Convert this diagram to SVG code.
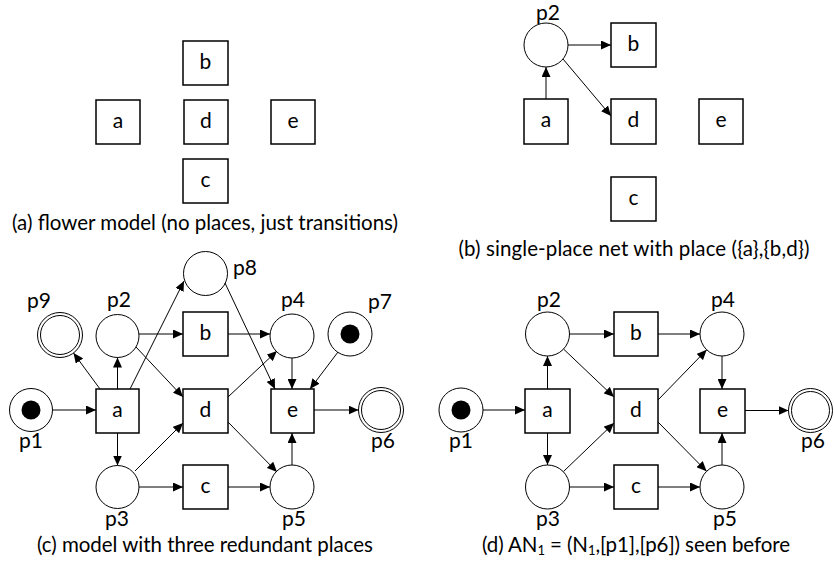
<svg xmlns="http://www.w3.org/2000/svg" width="834" height="572" viewBox="0 0 834 572">
<defs>
<marker id="ah" markerUnits="userSpaceOnUse" markerWidth="11" markerHeight="9" refX="10" refY="4.5" orient="auto">
<path d="M0,0 L10,4.5 L0,9 z" fill="#000"/>
</marker>
<style>
.t{fill:#fff;stroke:#000;stroke-width:1.5}
.p{fill:#fff;stroke:#000;stroke-width:1}
.tok{fill:#000}
.lbl{font-family:Lato,"Liberation Sans",sans-serif;font-size:21px;fill:#000;text-anchor:middle}
.cap{font-family:Lato,"Liberation Sans",sans-serif;font-size:20.5px;fill:#000;text-anchor:middle}
.arc{fill:none;stroke:#000;stroke-width:1;marker-end:url(#ah)}
</style>
</defs>
<rect width="834" height="572" fill="#fff"/>

<!-- Panel (a) -->
<g id="a_b"><rect class="t" x="183" y="41" width="45" height="44"/><text class="lbl" x="205.5" y="69">b</text></g>
<g id="a_a"><rect class="t" x="96" y="100" width="44" height="44"/><text class="lbl" x="118" y="128">a</text></g>
<g id="a_d"><rect class="t" x="184" y="100" width="44" height="44"/><text class="lbl" x="206" y="128">d</text></g>
<g id="a_e"><rect class="t" x="271" y="100" width="44" height="44"/><text class="lbl" x="293" y="128">e</text></g>
<g id="a_c"><rect class="t" x="183" y="159" width="45" height="44"/><text class="lbl" x="205.5" y="187">c</text></g>
<text class="cap" x="205" y="230" textLength="386">(a) flower model (no places, just transitions)</text>

<!-- Panel (b) -->
<g id="b_p2"><circle class="p" cx="546" cy="45" r="22"/><text class="lbl" x="548" y="19.5">p2</text></g>
<g id="b_b"><rect class="t" x="611" y="23" width="45" height="44"/><text class="lbl" x="633.5" y="51">b</text></g>
<g id="b_a"><rect class="t" x="524" y="99" width="44" height="45"/><text class="lbl" x="546" y="127">a</text></g>
<g id="b_d"><rect class="t" x="611" y="99" width="45" height="45"/><text class="lbl" x="633.5" y="127">d</text></g>
<g id="b_e"><rect class="t" x="699" y="99" width="44" height="45"/><text class="lbl" x="721" y="127">e</text></g>
<g id="b_c"><rect class="t" x="611" y="177" width="45" height="44"/><text class="lbl" x="633.5" y="205">c</text></g>
<g id="b_arcs">
<line class="arc" x1="546" y1="99" x2="546" y2="67"/>
<line class="arc" x1="568" y1="45" x2="611" y2="45"/>
<line class="arc" x1="563" y1="59" x2="611" y2="116"/>
</g>
<text class="cap" x="634" y="256" textLength="351">(b) single-place net with place ({a},{b,d})</text>

<!-- Panel (c) -->
<g id="c_p1"><circle class="p" cx="31" cy="410" r="21.5"/><circle class="tok" cx="31" cy="410" r="9.5"/><text class="lbl" x="31" y="448">p1</text></g>
<g id="c_a"><rect class="t" x="96" y="389" width="43" height="44"/><text class="lbl" x="117.5" y="417">a</text></g>
<g id="c_p2"><circle class="p" cx="117.5" cy="336" r="21.5"/><text class="lbl" x="119" y="307">p2</text></g>
<g id="c_p3"><circle class="p" cx="117.5" cy="487" r="21.5"/><text class="lbl" x="117" y="526">p3</text></g>
<g id="c_p9"><circle class="p" cx="60" cy="335" r="22.5"/><circle class="p" cx="60" cy="335" r="19.5"/><text class="lbl" x="39" y="308">p9</text></g>
<g id="c_p8"><circle class="p" cx="205.5" cy="273.5" r="22"/><text class="lbl" x="245" y="275">p8</text></g>
<g id="c_b"><rect class="t" x="183" y="312" width="45" height="44"/><text class="lbl" x="205.5" y="340">b</text></g>
<g id="c_d"><rect class="t" x="183" y="389" width="45" height="44"/><text class="lbl" x="205.5" y="417">d</text></g>
<g id="c_c"><rect class="t" x="183" y="465" width="45" height="44"/><text class="lbl" x="205.5" y="493">c</text></g>
<g id="c_p4"><circle class="p" cx="292" cy="336" r="22"/><text class="lbl" x="293" y="307">p4</text></g>
<g id="c_p7"><circle class="p" cx="350" cy="334" r="22"/><circle class="tok" cx="350" cy="334" r="9.5"/><text class="lbl" x="380" y="309">p7</text></g>
<g id="c_e"><rect class="t" x="271" y="389" width="43" height="44"/><text class="lbl" x="292.5" y="417">e</text></g>
<g id="c_p5"><circle class="p" cx="292" cy="487" r="22"/><text class="lbl" x="294" y="526">p5</text></g>
<g id="c_p6"><circle class="p" cx="381" cy="410" r="22.5"/><circle class="p" cx="381" cy="410" r="19.5"/><text class="lbl" x="383" y="448">p6</text></g>
<g id="c_arcs">
<line class="arc" x1="52.5" y1="410" x2="96" y2="410"/>
<line class="arc" x1="100" y1="389" x2="73.5" y2="353"/>
<line class="arc" x1="117.5" y1="389" x2="117.5" y2="357.5"/>
<line class="arc" x1="130" y1="389" x2="184" y2="281"/>
<line class="arc" x1="117.5" y1="433" x2="117.5" y2="465.5"/>
<line class="arc" x1="139" y1="334" x2="183" y2="334"/>
<line class="arc" x1="136" y1="347" x2="183" y2="397"/>
<line class="arc" x1="135" y1="471" x2="183" y2="423"/>
<line class="arc" x1="139" y1="487" x2="183" y2="487"/>
<line class="arc" x1="228" y1="334" x2="270" y2="334"/>
<line class="arc" x1="228" y1="397" x2="277" y2="351"/>
<line class="arc" x1="228" y1="422" x2="277" y2="472"/>
<line class="arc" x1="228" y1="487" x2="270" y2="487"/>
<line class="arc" x1="225" y1="283" x2="275" y2="389"/>
<line class="arc" x1="292" y1="358" x2="292" y2="389"/>
<line class="arc" x1="338" y1="352" x2="310" y2="389"/>
<line class="arc" x1="292" y1="465" x2="292" y2="433"/>
<line class="arc" x1="314" y1="410" x2="358.5" y2="410"/>
</g>
<text class="cap" x="205" y="552" textLength="336">(c) model with three redundant places</text>

<!-- Panel (d) -->
<g id="d_p1"><circle class="p" cx="461" cy="410" r="22"/><circle class="tok" cx="461" cy="410" r="9.5"/><text class="lbl" x="461" y="448">p1</text></g>
<g id="d_a"><rect class="t" x="525" y="389" width="45" height="44"/><text class="lbl" x="547.5" y="417">a</text></g>
<g id="d_p2"><circle class="p" cx="547.5" cy="334" r="22"/><text class="lbl" x="549" y="307">p2</text></g>
<g id="d_p3"><circle class="p" cx="547.5" cy="487" r="22"/><text class="lbl" x="548" y="526">p3</text></g>
<g id="d_b"><rect class="t" x="614" y="312" width="44" height="44"/><text class="lbl" x="636" y="340">b</text></g>
<g id="d_d"><rect class="t" x="614" y="389" width="44" height="44"/><text class="lbl" x="636" y="417">d</text></g>
<g id="d_c"><rect class="t" x="614" y="465" width="44" height="44"/><text class="lbl" x="636" y="493">c</text></g>
<g id="d_p4"><circle class="p" cx="722" cy="334" r="22"/><text class="lbl" x="723" y="307">p4</text></g>
<g id="d_e"><rect class="t" x="700" y="389" width="45" height="44"/><text class="lbl" x="722.5" y="417">e</text></g>
<g id="d_p5"><circle class="p" cx="722" cy="487" r="22"/><text class="lbl" x="725" y="526">p5</text></g>
<g id="d_p6"><circle class="p" cx="810.5" cy="410.5" r="22"/><circle class="p" cx="810.5" cy="410.5" r="19"/><text class="lbl" x="813" y="448">p6</text></g>
<g id="d_arcs">
<line class="arc" x1="483" y1="410" x2="525" y2="410"/>
<line class="arc" x1="547.5" y1="389" x2="547.5" y2="356"/>
<line class="arc" x1="547.5" y1="433" x2="547.5" y2="465"/>
<line class="arc" x1="569.5" y1="334" x2="614" y2="334"/>
<line class="arc" x1="563.5" y1="349" x2="614" y2="397"/>
<line class="arc" x1="563.5" y1="471.5" x2="614" y2="423"/>
<line class="arc" x1="569.5" y1="487" x2="614" y2="487"/>
<line class="arc" x1="658" y1="334" x2="700" y2="334"/>
<line class="arc" x1="658" y1="400" x2="706.7" y2="349.8"/>
<line class="arc" x1="658" y1="422" x2="706.6" y2="471.3"/>
<line class="arc" x1="658" y1="487" x2="700" y2="487"/>
<line class="arc" x1="722" y1="356" x2="722" y2="389"/>
<line class="arc" x1="722" y1="465" x2="722" y2="433"/>
<line class="arc" x1="745" y1="410.5" x2="788.5" y2="410.5"/>
</g>
<text class="cap" x="636" y="552" textLength="308">(d) AN<tspan font-size="13" dy="3">1</tspan><tspan dy="-3"> = (N</tspan><tspan font-size="13" dy="3">1</tspan><tspan dy="-3">,[p1],[p6]) seen before</tspan></text>
</svg>
